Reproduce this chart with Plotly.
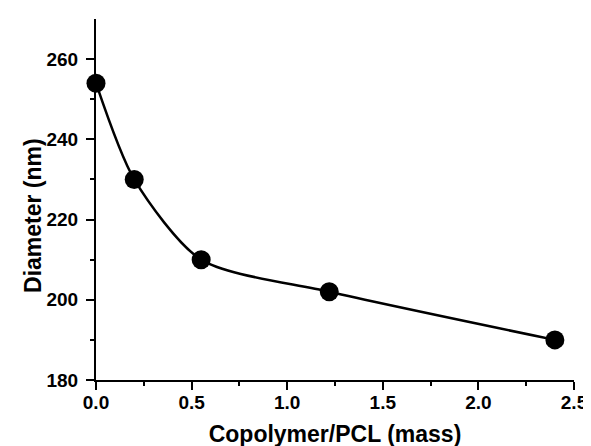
import plotly.graph_objects as go

ratio = [0.0, 0.2, 0.55, 1.22, 2.4]
diameter = [254, 230, 210, 202, 190]

x_ticks = [0.0, 0.5, 1.0, 1.5, 2.0, 2.5]
x_ticktext = ["0.0", "0.5", "1.0", "1.5", "2.0", "2.5"]
y_ticks = [180, 200, 220, 240, 260]

FONT = "Arial, 'Liberation Sans', sans-serif"

fig = go.Figure()
fig.add_trace(go.Scatter(
    x=ratio, y=diameter, mode="lines+markers",
    line=dict(color="black", width=2.5, shape="spline", smoothing=0.75),
    marker=dict(color="black", size=19, symbol="circle"),
    showlegend=False, cliponaxis=False,
))

fig.update_layout(
    width=591, height=446,
    margin=dict(l=88, r=14, t=11, b=68),
    paper_bgcolor="white", plot_bgcolor="white",
    font=dict(family=FONT, color="black"),
)
fig.update_xaxes(
    range=[0, 2.5], tickvals=x_ticks, ticktext=x_ticktext,
    showgrid=False, zeroline=False,
    showline=True, linecolor="black", linewidth=2,
    ticks="outside", ticklen=8, tickwidth=2, tickcolor="black",
    tickfont=dict(family=FONT, size=19, weight="bold"),
    ticklabelstandoff=-4,
    minor=dict(ticks="outside", ticklen=4, tickwidth=2, tickcolor="black",
               tickvals=[0.25, 0.75, 1.25, 1.75, 2.25]),
    title=dict(text="Copolymer/PCL (mass)", font=dict(family=FONT, size=23, weight="bold"), standoff=14),
)
fig.update_yaxes(
    range=[180, 270], tickvals=y_ticks,
    showgrid=False, zeroline=False,
    showline=True, linecolor="black", linewidth=2,
    ticks="outside", ticklen=8, tickwidth=2, tickcolor="black",
    tickfont=dict(family=FONT, size=19, weight="bold"),
    ticklabelstandoff=4,
    minor=dict(ticks="outside", ticklen=4, tickwidth=2, tickcolor="black",
               tickvals=[190, 210, 230, 250]),
)
fig.add_annotation(
    text="Diameter (nm)", textangle=-90,
    xref="paper", x=-0.133, xanchor="center",
    yref="y", y=221, yanchor="middle",
    showarrow=False, font=dict(family=FONT, size=23, weight="bold", color="black"),
)

fig.write_html("out.html")
